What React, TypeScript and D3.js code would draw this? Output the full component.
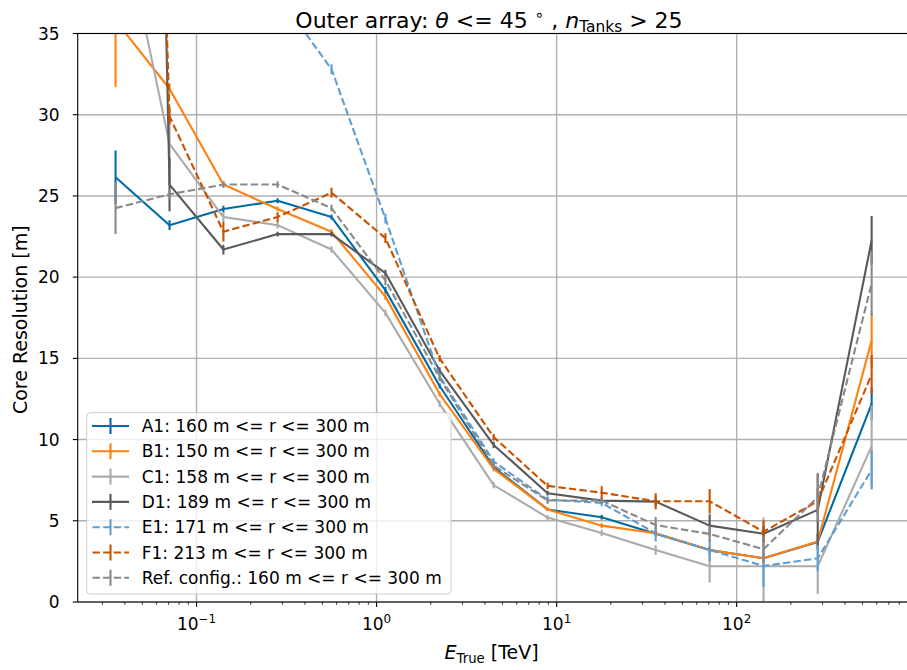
import React from "react";
import * as d3 from "d3";

// ---------- data ----------
const ENERGY = [0.0355, 0.0708, 0.141, 0.282, 0.562, 1.12, 2.24, 4.47, 8.91, 17.8, 35.5, 70.8, 141, 282, 562];

const A1 = [26.15, 23.2, 24.2, 24.7, 23.7, 19.2, 13.3, 8.3, 5.7, 5.22, 4.2, 3.2, 2.69, 3.7, 12.2];
const A1_ERR = [1.65, 0.3, 0.2, 0.15, 0.15, 0.2, 0.15, 0.15, 0.1, 0.15, 0.15, 0.2, 0.3, 0.5, 1.0];

const B1 = [35.8, 31.6, 25.7, 24.2, 22.8, 18.8, 12.8, 8.2, 5.7, 4.7, 4.23, 3.2, 2.69, 3.72, 16.1];
const B1_ERR = [4.1, 0.3, 0.2, 0.15, 0.15, 0.2, 0.15, 0.15, 0.1, 0.15, 0.15, 0.2, 0.3, 0.5, 1.7];

const C1 = [44, 28.2, 23.7, 23.2, 21.7, 17.8, 12.2, 7.2, 5.2, 4.25, 3.2, 2.2, 2.2, 2.2, 9.6];
const C1_ERR = [3.0, 1.5, 0.3, 0.2, 0.2, 0.2, 0.2, 0.2, 0.15, 0.2, 0.3, 1.0, 3.0, 1.7, 2.5];

const D1 = [178, 25.7, 21.7, 22.65, 22.65, 20.25, 14.25, 9.67, 6.7, 6.24, 6.18, 4.7, 4.2, 5.67, 22.26];
const D1_ERR = [5.0, 1.65, 0.3, 0.15, 0.15, 0.2, 0.2, 0.2, 0.15, 0.2, 0.3, 0.7, 0.5, 2.2, 1.5];

const E1 = [70, 55, 45, 37.4, 32.8, 23.6, 13.9, 8.65, 6.3, 6.1, 4.23, 3.2, 2.22, 2.69, 8.13];
const E1_ERR = [3.0, 2.0, 1.0, 0.5, 0.3, 0.3, 0.2, 0.2, 0.2, 0.2, 0.5, 0.7, 1.3, 0.8, 1.2];

const F1 = [135, 29.9, 22.8, 23.7, 25.2, 22.4, 15.0, 10.15, 7.15, 6.73, 6.2, 6.2, 4.33, 6.2, 14.0];
const F1_ERR = [5.0, 0.5, 0.6, 0.3, 0.3, 0.3, 0.2, 0.2, 0.2, 0.4, 0.5, 0.75, 0.7, 0.8, 1.2];

const REF = [24.25, 25.1, 25.7, 25.7, 24.25, 19.8, 13.8, 8.4, 6.25, 6.24, 4.74, 4.19, 3.25, 6.45, 19.6];
const REF_ERR = [1.6, 0.3, 0.2, 0.2, 0.2, 0.3, 0.2, 0.2, 0.2, 0.2, 0.5, 0.5, 0.8, 1.5, 2.0];

const LABELS = [
  "A1: 160 m <= r <= 300 m",
  "B1: 150 m <= r <= 300 m",
  "C1: 158 m <= r <= 300 m",
  "D1: 189 m <= r <= 300 m",
  "E1: 171 m <= r <= 300 m",
  "F1: 213 m <= r <= 300 m",
  "Ref. config.: 160 m <= r <= 300 m",
];
const COLORS = ["#006BA4", "#FF800E", "#ABABAB", "#595959", "#5F9ED1", "#C85200", "#898989"];
const DASHED = [false, false, false, false, true, true, true];
const VALUES = [A1, B1, C1, D1, E1, F1, REF];
const ERRORS = [A1_ERR, B1_ERR, C1_ERR, D1_ERR, E1_ERR, F1_ERR, REF_ERR];

const Y_TICKS = [0, 5, 10, 15, 20, 25, 30, 35];
const X_MAJOR = [0.1, 1, 10, 100];
const X_MAJOR_EXP = ["−1", "0", "1", "2"];

// ---------- layout ----------
const W = 907;
const H = 670;
const L = 77.7;
const R = 909.5;
const T = 33.5;
const B = 602;
const FONT = "'DejaVu Sans', sans-serif";
const FS = 17;
const LFS = 19;
const TFS = 22;
const DASH = "7.4,3.2";

export default function App() {
  const x = d3.scaleLog().domain([Math.pow(10, -1.66), Math.pow(10, 2.96)]).range([L, R]);
  const y = d3.scaleLinear().domain([0, 35]).range([B, T]);

  const minor: number[] = [];
  for (let e = -2; e <= 2; e++) {
    for (let m = 2; m <= 9; m++) {
      const v = m * Math.pow(10, e);
      if (x(v) >= L && x(v) <= W + 5) minor.push(v);
    }
  }

  const line = d3
    .line<number>()
    .x((_, i) => x(ENERGY[i]))
    .y((d) => y(d));

  const legX = 86.7;
  const legY = 412.7;
  const legW = 364.3;
  const legH = 181.3;
  const rowY = (i: number) => 426 + i * 25.3;

  return (
    <div style={{ position: "absolute", left: 0, top: 0 }}>
      <svg width={W} height={H} style={{ display: "block", background: "#fff" }} fontFamily={FONT}>
        <defs>
          <clipPath id="plotclip">
            <rect x={L} y={T} width={R - L} height={B - T} />
          </clipPath>
        </defs>
        {/* grid */}
        <g stroke="#b0b0b0" strokeWidth={1.4}>
          {Y_TICKS.map((t) => (
            <line key={"gy" + t} x1={L} x2={R} y1={y(t)} y2={y(t)} />
          ))}
          {X_MAJOR.map((t) => (
            <line key={"gx" + t} x1={x(t)} x2={x(t)} y1={T} y2={B} />
          ))}
        </g>

        {/* series */}
        <g clipPath="url(#plotclip)" fill="none" strokeWidth={2.1}>
          {VALUES.map((vals, si) => (
            <g key={"s" + si} stroke={COLORS[si]}>
              {vals.map((v, i) => (
                <line
                  key={"e" + i}
                  x1={x(ENERGY[i])}
                  x2={x(ENERGY[i])}
                  y1={y(v - ERRORS[si][i])}
                  y2={y(v + ERRORS[si][i])}
                />
              ))}
              <path d={line(vals) || ""} strokeDasharray={DASHED[si] ? DASH : undefined} strokeLinejoin="round" />
            </g>
          ))}
        </g>

        {/* spines */}
        <g stroke="#000" strokeWidth={1.1}>
          <line x1={L} x2={L} y1={T} y2={B} />
          <line x1={L} x2={W + 5} y1={B} y2={B} />
          <line x1={L} x2={W + 5} y1={T} y2={T} />
        </g>

        {/* y ticks */}
        {Y_TICKS.map((t) => (
          <g key={"yt" + t}>
            <line x1={L - 4.9} x2={L} y1={y(t)} y2={y(t)} stroke="#000" strokeWidth={1.1} />
            <text x={L - 18} y={y(t) + 6} textAnchor="end" fontSize={FS} fill="#000">
              {t}
            </text>
          </g>
        ))}

        {/* x ticks */}
        {X_MAJOR.map((t, i) => (
          <g key={"xt" + t}>
            <line x1={x(t)} x2={x(t)} y1={B} y2={B + 4.9} stroke="#000" strokeWidth={1.1} />
            <text x={x(t)} y={630} textAnchor="middle" fontSize={FS} fill="#000">
              10
              <tspan fontSize={FS * 0.7} dy={-7}>
                {X_MAJOR_EXP[i]}
              </tspan>
            </text>
          </g>
        ))}
        {minor.map((t) => (
          <line key={"mt" + t} x1={x(t)} x2={x(t)} y1={B} y2={B + 2.8} stroke="#000" strokeWidth={0.8} />
        ))}

        {/* axis labels */}
        <text x={(L + R) / 2 - 2} y={659} textAnchor="middle" fontSize={LFS} fill="#000">
          <tspan fontStyle="italic">E</tspan>
          <tspan fontSize={LFS * 0.7} dy={4}>
            True
          </tspan>
          <tspan dy={-4}> [TeV]</tspan>
        </text>
        <text
          transform={`translate(27,${(T + B) / 2 + 2}) rotate(-90)`}
          textAnchor="middle"
          fontSize={LFS}
          fill="#000"
        >
          Core Resolution [m]
        </text>

        {/* title */}
        <text x={489} y={28} textAnchor="middle" fontSize={TFS} fill="#000">
          Outer array: <tspan fontStyle="italic">θ</tspan> {"<= 45 "}
          <tspan fontSize={TFS * 0.7} dy={-8}>
            {"∘"}
          </tspan>
          <tspan dy={8}> , </tspan>
          <tspan fontStyle="italic">n</tspan>
          <tspan fontSize={TFS * 0.7} dy={4}>
            Tanks
          </tspan>
          <tspan dy={-4}>{" > 25"}</tspan>
        </text>

        {/* legend */}
        <g>
          <rect
            x={legX}
            y={legY}
            width={legW}
            height={legH}
            rx={3.5}
            fill="#fff"
            fillOpacity={0.8}
            stroke="#cccccc"
            strokeWidth={1}
          />
          {LABELS.map((lab, i) => (
            <g key={"lg" + i} stroke={COLORS[i]} strokeWidth={2.1}>
              <line
                x1={92}
                x2={129}
                y1={rowY(i)}
                y2={rowY(i)}
                strokeDasharray={DASHED[i] ? DASH : undefined}
                strokeDashoffset={DASHED[i] ? -0.5 : undefined}
              />
              <line x1={110.5} x2={110.5} y1={rowY(i) - 8} y2={rowY(i) + 8} />
              <text x={141.7} y={rowY(i) + 6} fontSize={FS} fill="#000" stroke="none">
                {lab}
              </text>
            </g>
          ))}
        </g>
      </svg>
    </div>
  );
}
